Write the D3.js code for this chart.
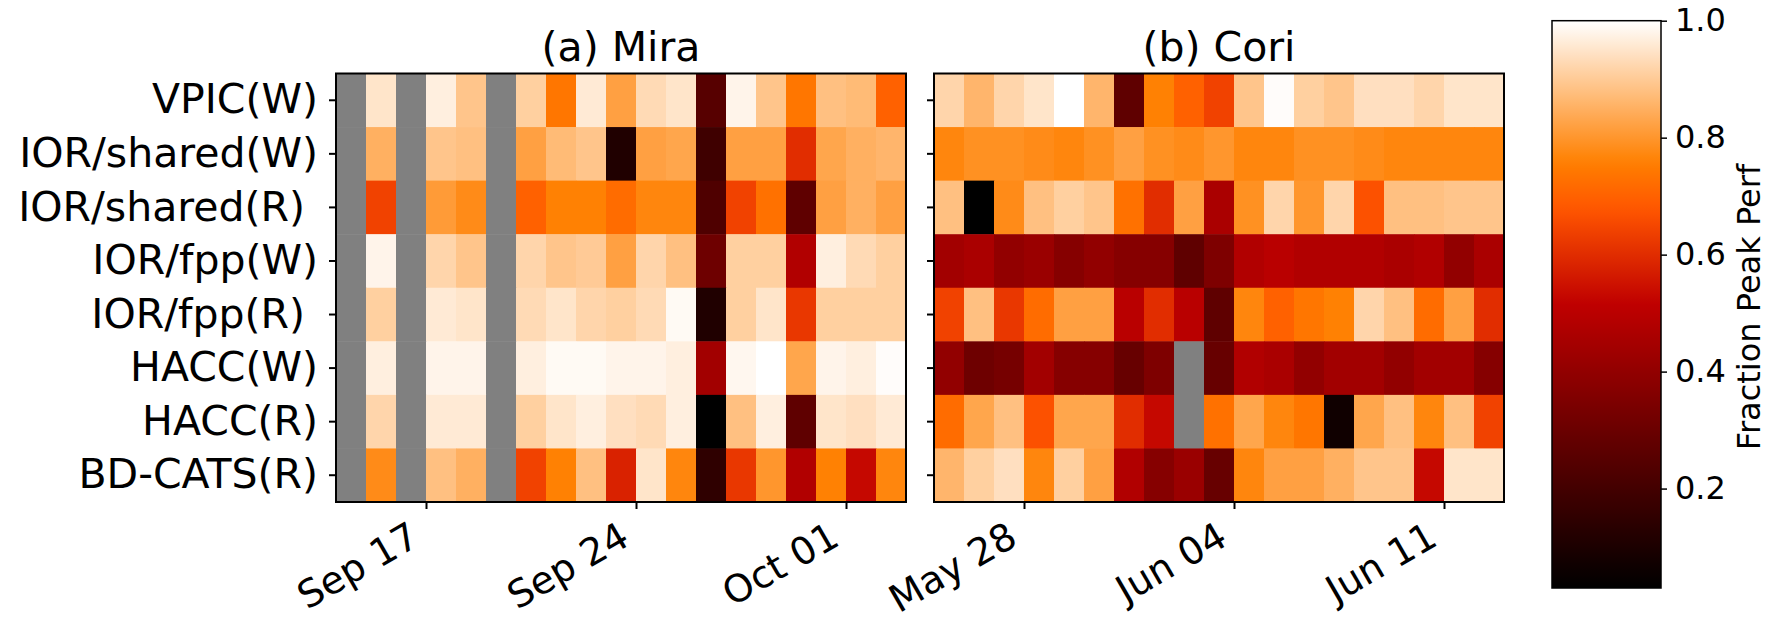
<!DOCTYPE html>
<html>
<head>
<meta charset="utf-8">
<script src="https://cdn.jsdelivr.net/npm/d3@7"></script>
<style>
    body { margin: 0; background: #fff; }
    svg { font-family: "DejaVu Sans", sans-serif; }
    .tick text { white-space: pre; }
</style>
</head>
<body>
<svg id="chart"></svg>
<script>
// benchmark rows (trailing spaces are in the original labels)
const benchmarks = ["VPIC(W)", "IOR/shared(W)", "IOR/shared(R) ", "IOR/fpp(W)",
    "IOR/fpp(R) ", "HACC(W)", "HACC(R)", "BD-CATS(R)"];

const miraStart = "2018-09-14";
const coriStart = "2018-05-25";

// fraction of peak performance, one value per day; null = no data
const miraValues = [
    [null, .95, null, .97, .89, null, .91, .74, .96, .82, .93, .95, .25, .98, .89, .74, .88, .87, .70],
    [null, .85, null, .89, .88, null, .82, .87, .89, .11, .82, .83, .19, .82, .82, .60, .83, .85, .86],
    [null, .64, null, .81, .78, null, .70, .76, .76, .72, .77, .77, .23, .64, .73, .27, .82, .85, .82],
    [null, .98, null, .92, .89, null, .92, .89, .90, .82, .92, .88, .31, .91, .91, .48, .97, .93, .91],
    [null, .91, null, .96, .95, null, .93, .95, .92, .91, .93, .99, .11, .91, .95, .62, .91, .91, .91],
    [null, .97, null, .98, .98, null, .97, .99, .99, .98, .98, .97, .44, .985, 1.0, .83, .98, .97, .995],
    [null, .92, null, .96, .96, null, .91, .95, .97, .94, .93, .97, .03, .88, .97, .27, .95, .94, .96],
    [null, .78, null, .88, .85, null, .64, .76, .88, .58, .95, .77, .15, .62, .80, .48, .76, .53, .77]
];

const coriValues = [
    [.92, .86, .92, .95, 1.0, .86, .27, .76, .70, .64, .89, .995, .91, .89, .94, .94, .92, .95, .95],
    [.77, .79, .79, .78, .77, .79, .82, .79, .78, .80, .77, .77, .79, .79, .78, .77, .77, .77, .77],
    [.88, .03, .78, .88, .91, .89, .73, .60, .82, .46, .79, .92, .80, .92, .67, .88, .88, .89, .89],
    [.44, .46, .40, .42, .37, .40, .37, .37, .27, .35, .48, .50, .48, .48, .48, .46, .48, .40, .46],
    [.64, .88, .62, .72, .82, .82, .50, .60, .50, .27, .77, .70, .74, .76, .92, .88, .72, .82, .60],
    [.40, .31, .33, .44, .37, .37, .29, .35, null, .29, .48, .46, .40, .44, .44, .40, .44, .44, .37],
    [.72, .83, .88, .67, .83, .83, .60, .53, null, .73, .83, .77, .74, .07, .83, .88, .77, .88, .64],
    [.86, .91, .94, .77, .91, .82, .48, .37, .42, .29, .77, .82, .82, .85, .89, .89, .53, .95, .95]
];

const colorTicks = [0.2, 0.4, 0.6, 0.8, 1.0];
const colorDomain = [0.03, 1.0];

const width = 1769, height = 620;
const svg = d3.select("#chart").attr("width", width).attr("height", height);

// matplotlib gist_heat
function gistHeat(t) {
    let c = v => Math.round(255 * Math.max(0, Math.min(1, v)));
    return d3.rgb(c(1.5 * t), c(2 * t - 1), c(4 * t - 3)).toString();
}
const color = d3.scaleSequential(gistHeat).domain(colorDomain);
const missing = "#808080";

const plotTop = 73.5, plotBottom = 502;

let heatPanel = function (options) {
    let self = {};
    for (let key in options) {
        self[key] = options[key];
    }

    let start = d3.utcParse("%Y-%m-%d")(self.start);
    self.days = d3.utcDays(start, d3.utcDay.offset(start, self.values[0].length + 1));

    self.x = d3.scaleUtc()
        .domain([self.days[0], self.days[self.days.length - 1]])
        .range([self.left, self.right]);
    self.y = d3.scaleBand()
        .domain(benchmarks)
        .range([plotTop, plotBottom]);

    self.g = svg.append("g");

    self.render = function () {
        let cells = [];
        self.values.forEach(function (row, i) {
            row.forEach(function (v, j) {
                cells.push({bench: benchmarks[i], day: self.days[j], next: self.days[j + 1], value: v});
            });
        });

        self.g.append("g")
            .selectAll("rect")
            .data(cells)
            .enter()
            .append("rect")
            .attr("x", d => self.x(d.day))
            .attr("y", d => self.y(d.bench))
            .attr("width", d => self.x(d.next) - self.x(d.day) + 0.5)
            .attr("height", self.y.bandwidth() + 0.5)
            .attr("fill", d => d.value == null ? missing : color(d.value));

        let yAxis = d3.axisLeft(self.y).tickSize(7).tickPadding(11);
        if (!self.labels) yAxis.tickFormat("");
        let gy = self.g.append("g")
            .attr("transform", "translate(" + self.left + ",0)")
            .call(yAxis);
        gy.select(".domain").remove();
        gy.selectAll(".tick line").attr("stroke-width", 2);
        gy.selectAll(".tick text")
            .attr("font-size", "41px")
            .attr("font-family", "DejaVu Sans")
            .attr("fill", "#000");

        let xAxis = d3.axisBottom(self.x)
            .ticks(d3.utcMonday.every(1))
            .tickFormat(d3.utcFormat("%b %d"))
            .tickSize(7);
        let gx = self.g.append("g")
            .attr("transform", "translate(0," + plotBottom + ")")
            .call(xAxis);
        gx.select(".domain").remove();
        gx.selectAll(".tick line").attr("stroke-width", 2);
        gx.selectAll(".tick text")
            .attr("font-size", "38px")
            .attr("font-family", "DejaVu Sans")
            .attr("fill", "#000")
            .attr("x", 0).attr("y", 0).attr("dy", 0)
            .attr("text-anchor", "end")
            .attr("transform", "translate(-5,42) rotate(-30)");

        self.g.append("rect")
            .attr("x", self.left)
            .attr("y", plotTop)
            .attr("width", self.right - self.left)
            .attr("height", plotBottom - plotTop)
            .attr("fill", "none")
            .attr("stroke", "#000")
            .attr("stroke-width", 2);

        self.g.append("text")
            .attr("x", (self.left + self.right) / 2)
            .attr("y", 61)
            .attr("text-anchor", "middle")
            .attr("font-size", "41px")
            .text(self.title);
    };

    self.render();
    return self;
};

heatPanel({title: "(a) Mira", start: miraStart, values: miraValues, left: 336, right: 906, labels: true});
heatPanel({title: "(b) Cori", start: coriStart, values: coriValues, left: 934, right: 1504, labels: false});

// colorbar
const cb = {left: 1552, right: 1661, top: 20.7, bottom: 588};
const grad = svg.append("defs").append("linearGradient")
    .attr("id", "cbar")
    .attr("x1", 0).attr("y1", 1).attr("x2", 0).attr("y2", 0);
grad.selectAll("stop")
    .data(d3.range(0, 1.0001, 0.02))
    .enter()
    .append("stop")
    .attr("offset", d => d)
    .attr("stop-color", d => color(colorDomain[0] + d * (colorDomain[1] - colorDomain[0])));

svg.append("rect")
    .attr("x", cb.left).attr("y", cb.top)
    .attr("width", cb.right - cb.left).attr("height", cb.bottom - cb.top)
    .attr("fill", "url(#cbar)")
    .attr("stroke", "#000")
    .attr("stroke-width", 1.5);

const cScale = d3.scaleLinear().domain(colorDomain).range([cb.bottom, cb.top]);
const gc = svg.append("g")
    .attr("transform", "translate(" + cb.right + ",0)")
    .call(d3.axisRight(cScale).tickValues(colorTicks).tickFormat(d3.format(".1f")).tickSize(6).tickPadding(8));
gc.select(".domain").remove();
gc.selectAll(".tick line").attr("stroke-width", 1.5);
gc.selectAll(".tick text")
    .attr("font-size", "32px")
    .attr("font-family", "DejaVu Sans")
    .attr("fill", "#000");

svg.append("text")
    .attr("transform", "translate(1760,307) rotate(-90)")
    .attr("text-anchor", "middle")
    .attr("font-size", "32px")
    .text("Fraction Peak Perf");
</script>
</body>
</html>
